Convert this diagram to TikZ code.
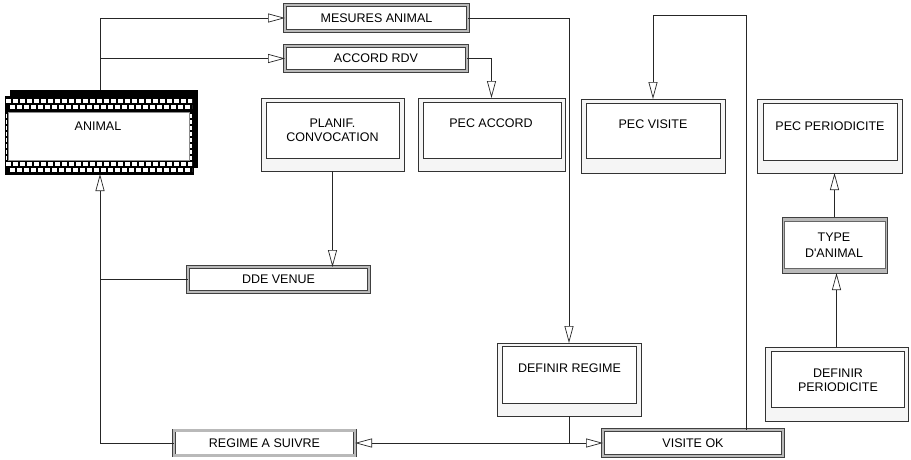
\documentclass[tikz,border=0pt]{standalone}
\usepackage{fontspec}
\setmainfont{Liberation Sans}
\usetikzlibrary{arrows.meta}
\newcommand\lbfont{\fontsize{12.5}{14}\selectfont}
\begin{document}
\begin{tikzpicture}[x=1pt,y=-1pt,
  line/.style={draw=black!85, line width=0.7pt},
  arr/.style={line, -{Triangle[length=17pt,width=9pt,fill=white]}},
  flatbox/.style={draw=black!75, line width=0.6pt, double=gray!55, double distance=2.2pt, fill=white, inner sep=0pt, outer sep=0pt, font=\lbfont},
  winout/.style={draw=black!80, line width=0.7pt, fill=black!4, inner sep=0pt, outer sep=0pt},
  winin/.style={draw=black!80, line width=0.9pt, fill=white},
  lbl/.style={font=\lbfont, align=center, inner sep=0pt},
]
\useasboundingbox (0,0) rectangle (911,459);
\fill[white] (0,0) rectangle (911,459);

% ---------- ANIMAL (brick box) ----------
\fill[black] (10,90) rectangle (198,168);
\node[draw=black, fill=black, line width=0.6pt, minimum width=188pt, minimum height=78pt, inner sep=0pt, outer sep=0pt] (animal) at (99,135) {};
\begin{scope}
  \clip (6,96) rectangle (192,174);
  \foreach \yy/\off in {99/0,105/3.5,162/0,168/3.5}{
    \foreach \xx in {0,...,27}{
      \fill[white] ({6+\off+7*\xx},\yy) rectangle ++(5,4);
    }
  }
\end{scope}
\fill[white] (8,112) rectangle (189,160);
\draw[black!45, line width=0.4pt] (8,112) rectangle (189,160);
\foreach \yy in {114,120,...,156}{
  \fill[white] (6,\yy) rectangle ++(1.4,3.5);
  \fill[white] (190,\yy) rectangle ++(2,4);
}
\node[lbl] (animaltxt) at (98,126) {ANIMAL};
\coordinate (anN) at (100,90);
\coordinate (anS) at (100,174);

% ---------- flat boxes ----------
\node[flatbox, minimum width=183pt, minimum height=26pt] (mes) at (376.5,18) {MESURES ANIMAL};
\node[flatbox, minimum width=182pt, minimum height=25pt] (acc) at (376,58.5) {ACCORD RDV};
\node[flatbox, minimum width=181pt, minimum height=25pt] (dde) at (278.5,279.5) {DDE VENUE};
\node[flatbox, minimum width=181pt, minimum height=25pt] (reg) at (264.5,443) {REGIME A SUIVRE};
\node[flatbox, minimum width=180pt, minimum height=26pt] (visok) at (693,443) {VISITE OK};

% ---------- TYPE D'ANIMAL ----------
\node[draw=black!75, fill=gray!55, line width=0.6pt, minimum width=105pt, minimum height=56pt, inner sep=0pt, outer sep=0pt] (type) at (834.5,245) {};
\fill[white] (784,221.5) rectangle (885,268.5);
\draw[black!60, line width=0.4pt] (784,221.5) rectangle (885,268.5);
\node[lbl, font=\fontsize{12.5}{15.5}\selectfont] (typetxt) at (834,245) {TYPE\\D\textquotesingle ANIMAL};

% ---------- window boxes ----------
\node[winout, minimum width=143pt, minimum height=73pt] (planif) at (332.5,134.5) {};
\draw[winin] (266,102) rectangle (399,158);
\node[lbl] (planiftxt) at (332.5,130) {PLANIF.\\CONVOCATION};

\node[winout, minimum width=147pt, minimum height=73pt] (pecacc) at (491.5,134.5) {};
\draw[winin] (423,102) rectangle (561,158);
\node[lbl] (pecacctxt) at (491,123) {PEC ACCORD};

\node[winout, minimum width=144pt, minimum height=74pt] (pecvis) at (653,136) {};
\draw[winin] (586,103) rectangle (720,158);
\node[lbl] (pecvistxt) at (653,124) {PEC VISITE};

\node[winout, minimum width=145pt, minimum height=74pt] (pecper) at (829.5,136) {};
\draw[winin] (763,103) rectangle (897,160);
\node[lbl] (pecpertxt) at (830,126.5) {PEC PERIODICITE};

\node[winout, minimum width=144pt, minimum height=73pt] (defreg) at (569,379.5) {};
\draw[winin] (502,346) rectangle (636,403);
\node[lbl] (defregtxt) at (569.5,368) {DEFINIR REGIME};

\node[winout, minimum width=143pt, minimum height=74pt] (defper) at (836.5,384) {};
\draw[winin] (771,351) rectangle (904,407);
\node[lbl] (defpertxt) at (838,380) {DEFINIR\\PERIODICITE};

% ---------- connectors ----------
\draw[arr] (anN) |- (mes.west);
\draw[arr] (anN |- acc.west) -- (acc.west);
\draw[arr] (acc.east) -| (pecacc.north);
\draw[arr] (mes.east) -| (defreg.north);
\draw[arr] (planif.south) -- (planif.south |- dde.north);
\draw[line] (dde.west) -- (dde.west -| anS);
\draw[arr] (reg.west) -| (anS);
\coordinate (jn) at (defreg.south |- visok.west);
\draw[line] (defreg.south) -- (jn);
\draw[arr] (jn) -- (reg.east);
\draw[arr] (jn) -- (visok.west);
\coordinate (vturn) at (746,15);
\draw[arr] (vturn |- visok.north) -- (vturn) -| (pecvis.north);
\draw[arr] (type.north) -- (type.north |- pecper.south);
\draw[arr] (defper.north) -- (defper.north |- type.south);
\end{tikzpicture}
\end{document}
